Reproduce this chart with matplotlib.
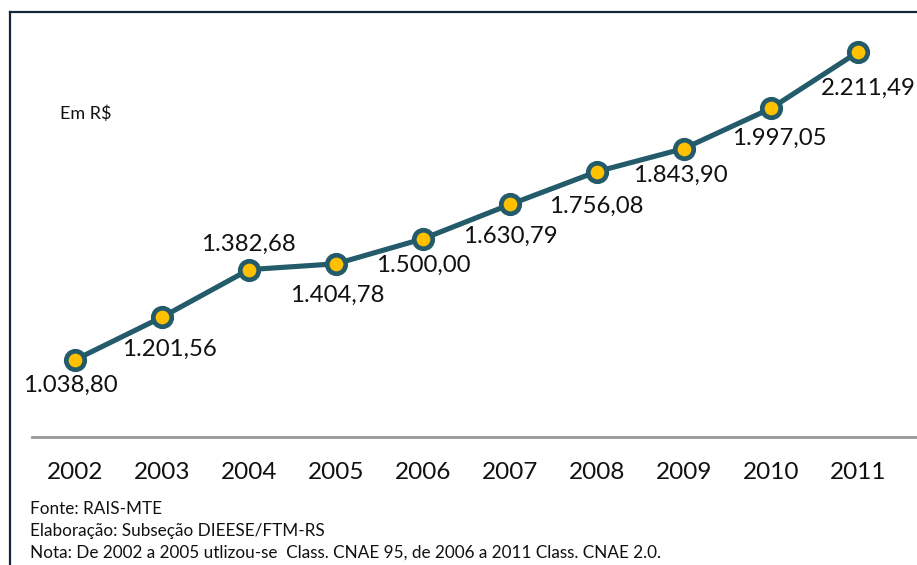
import matplotlib.pyplot as plt
from matplotlib.lines import Line2D

# Remuneracao media (R$) por ano
anos = ['2002', '2003', '2004', '2005', '2006', '2007', '2008', '2009', '2010', '2011']
valores = [1038.80, 1201.56, 1382.68, 1404.78, 1500.00, 1630.79, 1756.08, 1843.90, 1997.05, 2211.49]
rotulos = ['1.038,80', '1.201,56', '1.382,68', '1.404,78', '1.500,00',
           '1.630,79', '1.756,08', '1.843,90', '1.997,05', '2.211,49']

# deslocamento de cada rotulo em pixels (dx, dy)
desloc = [(-5, -25), (7, -32), (-1, 25), (1, -32), (0, -27),
          (0, -32), (-1, -35), (-4, -27), (8, -30), (10, -36)]

COR_LINHA = '#235b6b'
COR_MIOLO = '#ffc000'
FONTE = 'Lato'

W, H = 917, 565
fig = plt.figure(figsize=(W / 100, H / 100), dpi=100)

# moldura (so esquerda e topo aparecem)
fig.add_artist(Line2D([10 / W, 10 / W], [0, 1 - 12 / H], color='#13263a', lw=1.6))
fig.add_artist(Line2D([10 / W, 1], [1 - 12 / H, 1 - 12 / H], color='#13263a', lw=1.6))

ax = fig.add_axes([32 / W, 1 - 437 / H, (W - 32) / W, (437 - 12) / H])
x = list(range(len(anos)))
ax.plot(x, valores, color=COR_LINHA, lw=3.7, zorder=2)
ax.plot(x, valores, ls='none', marker='o', ms=13.3, mfc=COR_MIOLO, mec=COR_LINHA,
        mew=3.4, zorder=3)

for xi, v, txt, (dx, dy) in zip(x, valores, rotulos, desloc):
    ax.annotate(txt, (xi, v), xytext=(dx, dy), textcoords='offset pixels',
                ha='center', va='center', fontsize=17.3, family=FONTE, color='#111111')

ax.set_xlim(-0.494, 9.678)
ax.set_ylim(745, 2364)
for s in ['top', 'right', 'left']:
    ax.spines[s].set_visible(False)
ax.spines['bottom'].set_color('#999999')
ax.spines['bottom'].set_linewidth(2)
ax.set_yticks([])
ax.set_xticks(x)
ax.set_xticklabels(anos, family=FONTE, fontsize=17.5, color='#111111')
ax.tick_params(axis='x', length=0, pad=18)

fig.text(60 / W, 1 - 114 / H, 'Em R$', family=FONTE, fontsize=13, va='center', color='#111111')

notas = ['Fonte: RAIS-MTE',
         'Elaboração: Subseção DIEESE/FTM-RS',
         'Nota: De 2002 a 2005 utlizou-se  Class. CNAE 95, de 2006 a 2011 Class. CNAE 2.0.']
for i, n in enumerate(notas):
    fig.text(30 / W, 1 - (509 + 22 * i) / H, n, family=FONTE, fontsize=12.3,
             va='center', color='#111111')

fig.savefig('out.png', dpi=100)
